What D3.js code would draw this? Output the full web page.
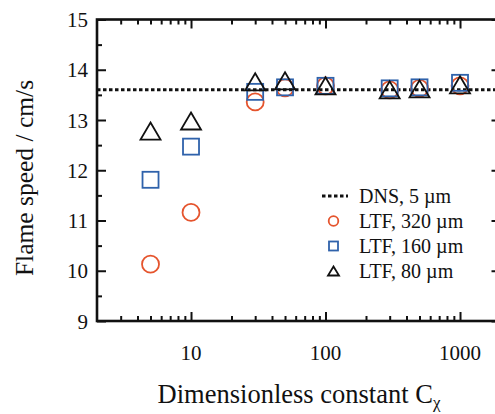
<!DOCTYPE html>
<html>
<head>
<meta charset="utf-8">
<script src="https://cdn.jsdelivr.net/npm/d3@7"></script>
<style>
  html, body { margin: 0; padding: 0; background: #fff; }
  svg { display: block; }
</style>
</head>
<body>
<svg id="chart" width="495" height="414" font-family="'Liberation Serif', 'Times New Roman', Times, serif"></svg>
<script>
// Dimensionless constant C_chi
const cValues = [5, 10, 30, 50, 100, 300, 500, 1000];
// Flame speed (cm/s) for each LTF resolution
const ltf320 = [10.13, 11.16, 13.36, 13.64, 13.68, 13.60, 13.63, 13.68];
const ltf160 = [11.81, 12.47, 13.56, 13.65, 13.68, 13.63, 13.65, 13.74];
const ltf80  = [12.78, 12.98, 13.76, 13.78, 13.68, 13.60, 13.62, 13.70];
// DNS reference flame speed
const dnsSpeed = 13.6;

const xMajorTicks = [10, 100, 1000];
const xTickLabels = ["10", "100", "1000"];
const xMinorTicks = [3, 4, 5, 6, 7, 8, 9, 20, 30, 40, 50, 60, 70, 80, 90,
                     200, 300, 400, 500, 600, 700, 800, 900];
const yMajorTicks = [9, 10, 11, 12, 13, 14, 15];
const yTickLabels = ["9", "10", "11", "12", "13", "14", "15"];
const yMinorTicks = [9.5, 10.5, 11.5, 12.5, 13.5, 14.5];

const legendLabels = ["DNS, 5 \u00b5m", "LTF, 320 \u00b5m", "LTF, 160 \u00b5m", "LTF, 80 \u00b5m"];

const FONT = "'Liberation Serif', 'Times New Roman', Times, serif";
const svg = d3.select("#chart");
const box = { left: 97, right: 500.5, top: 19.5, bottom: 321 };

const x = d3.scaleLog().domain([2, 2000]).range([box.left, box.right]);
const y = d3.scaleLinear().domain([9, 15]).range([box.bottom, box.top]);

const red = "#e5542d", blue = "#2f62ab", black = "#111";

// Axes with inward ticks on all four sides
function styleAxis(g) {
  g.select(".domain").remove();
  g.selectAll(".tick line").attr("stroke", black).attr("stroke-width", 2);
  g.selectAll(".tick text").remove();
}
function addAxis(axisFn, scale, ticks, size, tx, ty) {
  svg.append("g").attr("transform", `translate(${tx},${ty})`)
    .call(axisFn(scale).tickValues(ticks).tickSize(size)).call(styleAxis);
}
addAxis(d3.axisBottom, x, xMajorTicks, -9, 0, box.bottom);
addAxis(d3.axisBottom, x, xMinorTicks, -5, 0, box.bottom);
addAxis(d3.axisTop, x, xMajorTicks, -9, 0, box.top);
addAxis(d3.axisTop, x, xMinorTicks, -5, 0, box.top);
addAxis(d3.axisLeft, y, yMajorTicks, -9, box.left, 0);
addAxis(d3.axisLeft, y, yMinorTicks, -5, box.left, 0);
addAxis(d3.axisRight, y, yMajorTicks, -9, box.right, 0);
addAxis(d3.axisRight, y, yMinorTicks, -5, box.right, 0);

// Frame
svg.append("rect")
  .attr("x", box.left).attr("y", box.top)
  .attr("width", box.right - box.left).attr("height", box.bottom - box.top)
  .attr("fill", "none").attr("stroke", black).attr("stroke-width", 2.6);

const texts = svg.append("g").attr("font-family", FONT).attr("fill", "#111");

// Tick labels
texts.append("g").selectAll("text").data(xMajorTicks).join("text")
  .attr("x", d => x(d)).attr("y", box.bottom + 39)
  .attr("text-anchor", "middle").attr("font-size", 21)
  .text((d, i) => xTickLabels[i]);
texts.append("g").selectAll("text").data(yMajorTicks).join("text")
  .attr("x", box.left - 9).attr("y", d => y(d) + 7.5)
  .attr("text-anchor", "end").attr("font-size", 21)
  .text((d, i) => yTickLabels[i]);

// Axis titles
const xt = texts.append("text")
  .attr("x", 299).attr("y", 403)
  .attr("text-anchor", "middle").attr("font-size", 26.5);
xt.append("tspan").text("Dimensionless constant C");
xt.append("tspan").attr("dy", 5).attr("font-size", 17).text("\u03c7");

texts.append("text")
  .attr("transform", `translate(33,178) rotate(-90)`)
  .attr("text-anchor", "middle").attr("font-size", 25.5)
  .text("Flame speed / cm/s");

// DNS reference line
svg.append("line")
  .attr("x1", box.left).attr("x2", box.right)
  .attr("y1", y(dnsSpeed)).attr("y2", y(dnsSpeed))
  .attr("stroke", black).attr("stroke-width", 3)
  .attr("stroke-dasharray", "3.5,2.5");

// Marker shapes
function trianglePath(w, h) {
  return `M0,${-h / 2}L${w / 2},${h / 2}L${-w / 2},${h / 2}Z`;
}
const plot = svg.append("g");
const pts = (vals) => cValues.map((c, i) => ({ c, v: vals[i] }));

plot.append("g").selectAll("circle").data(pts(ltf320)).join("circle")
  .attr("cx", d => x(d.c)).attr("cy", d => y(d.v)).attr("r", 8.5)
  .attr("fill", "none").attr("stroke", red).attr("stroke-width", 1.8);

plot.append("g").selectAll("rect").data(pts(ltf160)).join("rect")
  .attr("x", d => x(d.c) - 8).attr("y", d => y(d.v) - 8)
  .attr("width", 16).attr("height", 16)
  .attr("fill", "none").attr("stroke", blue).attr("stroke-width", 1.8);

plot.append("g").selectAll("path").data(pts(ltf80)).join("path")
  .attr("transform", d => `translate(${x(d.c)},${y(d.v)})`)
  .attr("d", trianglePath(20, 17))
  .attr("fill", "none").attr("stroke", black).attr("stroke-width", 1.8);

// Legend
const lg = svg.append("g");
const rowY = [196, 221, 246, 271];
lg.append("line")
  .attr("x1", 322).attr("x2", 348).attr("y1", rowY[0]).attr("y2", rowY[0])
  .attr("stroke", black).attr("stroke-width", 3).attr("stroke-dasharray", "3.5,2.5");
lg.append("circle").attr("cx", 333.5).attr("cy", rowY[1]).attr("r", 4.8)
  .attr("fill", "none").attr("stroke", red).attr("stroke-width", 1.8);
lg.append("rect").attr("x", 329).attr("y", rowY[2] - 4.5).attr("width", 9).attr("height", 9)
  .attr("fill", "none").attr("stroke", blue).attr("stroke-width", 1.8);
lg.append("path").attr("transform", `translate(333.5,${rowY[3]})`)
  .attr("d", trianglePath(11, 9))
  .attr("fill", "none").attr("stroke", black).attr("stroke-width", 1.8);
texts.selectAll("text.lbl").data(legendLabels).join("text")
  .attr("class", "lbl")
  .attr("x", 359).attr("y", (d, i) => rowY[i] + 6.5)
  .attr("font-size", 20)
  .text(d => d);
</script>
</body>
</html>
